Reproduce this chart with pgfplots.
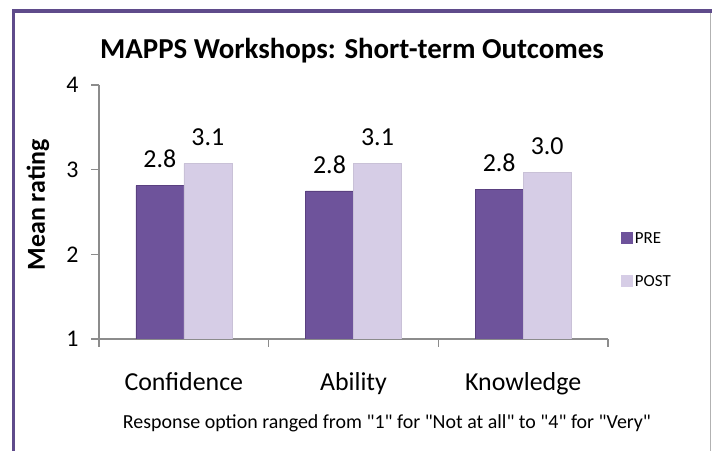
\documentclass[border=0pt]{standalone}
\usepackage{fontspec}
\setmainfont{Carlito}
\usepackage{pgfplots}
\pgfplotsset{compat=1.18}
\definecolor{frameP}{HTML}{5F4B8B}
\definecolor{preC}{HTML}{6E539B}
\definecolor{preD}{HTML}{5A4080}
\definecolor{postC}{HTML}{D6CDE6}
\definecolor{axgray}{HTML}{8C8C8C}
\begin{document}
\begin{tikzpicture}[x=1bp,y=1bp]
\path[use as bounding box, fill=white] (0,0) rectangle (712,451);
\draw[frameP, line width=3.5bp] (13.5,0) -- (13.5,440) -- (712,440);
\draw[gray!60, line width=1bp] (710.7,0) -- (710.7,438);
\node[font=\fontsize{29}{32}\selectfont\bfseries] at (352,400) {MAPPS Workshops: Short-term Outcomes};
\node[font=\fontsize{20}{23}\selectfont] at (387,28) {Response option ranged from \textquotedbl 1\textquotedbl{} for \textquotedbl Not at all\textquotedbl{} to \textquotedbl 4\textquotedbl{} for \textquotedbl Very\textquotedbl};
\node[font=\fontsize{26}{29}\selectfont\bfseries, rotate=90] at (38,246) {Mean rating};
\begin{axis}[
  at={(99bp,112bp)}, anchor=south west,
  scale only axis, width=509bp, height=254bp,
  xmin=-0.5, xmax=2.5, ymin=1, ymax=4,
  axis lines*=left,
  axis line style={axgray, line width=1.2bp},
  ybar=0pt, bar width=48bp,
  xtick={0,1,2}, xticklabels={Confidence,Ability,Knowledge},
  minor xtick={-0.5,0.5,1.5,2.5},
  ytick={1,2,3,4},
  tick align=outside,
  major tick length=8bp, minor tick length=8bp,
  x tick style={draw=none},
  minor x tick style={draw=axgray, line width=1.2bp},
  y tick style={draw=axgray, line width=1.2bp},
  xticklabel style={font=\fontsize{26}{29}\selectfont, yshift=-22bp},
  yticklabel style={font=\fontsize{24}{27}\selectfont, xshift=-9bp},
  /pgf/number format/assume math mode=true,
  nodes near coords,
  nodes near coords style={font=\fontsize{26}{29}\selectfont, /pgf/number format/fixed, /pgf/number format/fixed zerofill, /pgf/number format/precision=1, yshift=14bp},
  legend style={at={(1.025,0.31)}, anchor=west, draw=none, fill=none,
    font=\fontsize{17}{20}\selectfont, row sep=27bp, inner sep=0pt},
  legend cell align=left,
  legend image code/.code={\path[#1, draw=none] (0bp,-5.5bp) rectangle (12bp,6.5bp);},
  clip=true,
]
\addplot[fill=preC, draw=preD, line width=0.6bp] coordinates {(0,2.81) (1,2.75) (2,2.77)};
\addplot[fill=postC, draw=postC!85!gray, line width=0.6bp] coordinates {(0,3.07) (1,3.07) (2,2.97)};
\legend{PRE,POST}
\end{axis}
\end{tikzpicture}
\end{document}
